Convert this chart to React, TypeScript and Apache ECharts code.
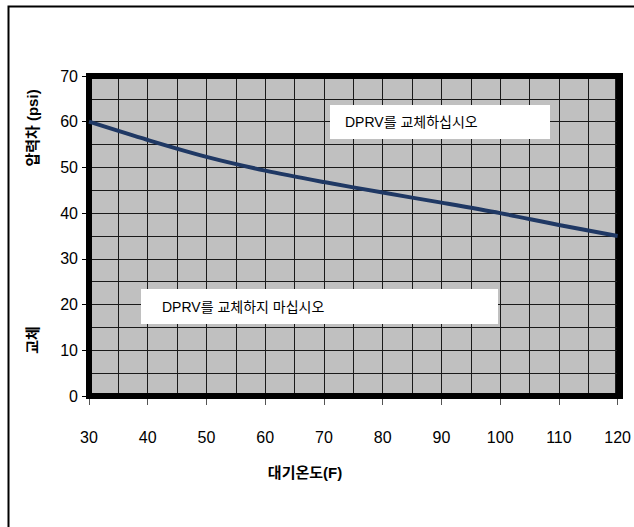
import React, { useEffect, useRef } from "react";
import * as echarts from "echarts";

const temperatures = [30, 40, 50, 60, 70, 80, 90, 100, 110, 120];
const pressureDiff = [60, 56, 52.3, 49.3, 46.8, 44.5, 42.3, 40, 37.4, 35];
const xTitle = "대기온도(F)";
const yTitle = "압력차 (psi)";
const yTitleLow = "교체";
const upperNote = "DPRV를 교체하십시오";
const lowerNote = "DPRV를 교체하지 마십시오";

const FONT = "Arial, 'Liberation Sans', 'Noto Sans CJK KR', sans-serif";

export default function App() {
  const ref = useRef<HTMLDivElement>(null);
  useEffect(() => {
    if (!ref.current) return;
    const chart = echarts.init(ref.current, null, { renderer: "svg" });
    const data = temperatures.map((t, i) => [t, pressureDiff[i]]);
    chart.setOption({
      animation: false,
      backgroundColor: "#ffffff",
      textStyle: { fontFamily: FONT },
      grid: {
        left: 89,
        right: 14,
        top: 76,
        bottom: 131,
        show: true,
        backgroundColor: "#c0c0c0",
        borderColor: "#000000",
        borderWidth: 5,
      },
      xAxis: {
        type: "value",
        min: 30,
        max: 120,
        interval: 10,
        axisLine: { show: false },
        axisTick: { show: true, length: 9, lineStyle: { color: "#555", width: 1 } },
        axisLabel: { color: "#000", fontSize: 16, margin: 33, fontFamily: FONT },
        splitLine: { show: true, lineStyle: { color: "#1a1a1a", width: 1 } },
        minorTick: { show: false, splitNumber: 2 },
        minorSplitLine: { show: true, lineStyle: { color: "#1a1a1a", width: 1 } },
      },
      yAxis: {
        type: "value",
        min: 0,
        max: 70,
        interval: 10,
        axisLine: { show: false },
        axisTick: { show: true, length: 7, lineStyle: { color: "#000", width: 1 } },
        axisLabel: { color: "#000", fontSize: 16, margin: 11, fontFamily: FONT },
        splitLine: { show: true, lineStyle: { color: "#1a1a1a", width: 1 } },
        minorTick: { show: false, splitNumber: 2 },
        minorSplitLine: { show: true, lineStyle: { color: "#1a1a1a", width: 1 } },
      },
      series: [
        {
          type: "line",
          data,
          smooth: 0.3,
          showSymbol: false,
          lineStyle: { color: "#1f3864", width: 4 },
          z: 5,
        },
      ],
      graphic: [
        {
          type: "rect",
          shape: { x: 8.5, y: 6.5, width: 700, height: 600 },
          style: { fill: "none", stroke: "#000", lineWidth: 2 },
          z: 0,
        },
        {
          type: "rect",
          shape: { x: 89, y: 76, width: 531, height: 320 },
          style: { fill: "none", stroke: "#000", lineWidth: 6 },
          z: 3,
        },
        {
          type: "rect",
          shape: { x: 330, y: 105, width: 220, height: 34 },
          style: { fill: "#ffffff" },
          z: 10,
        },
        {
          type: "text",
          x: 345,
          y: 122,
          style: {
            text: upperNote,
            fontSize: 14,
            fontFamily: FONT,
            fill: "#000",
            verticalAlign: "middle",
            align: "left",
          },
          z: 11,
        },
        {
          type: "rect",
          shape: { x: 141, y: 289, width: 357, height: 35 },
          style: { fill: "#ffffff" },
          z: 10,
        },
        {
          type: "text",
          x: 162,
          y: 307,
          style: {
            text: lowerNote,
            fontSize: 14,
            fontFamily: FONT,
            fill: "#000",
            verticalAlign: "middle",
            align: "left",
          },
          z: 11,
        },
        {
          type: "text",
          x: 305,
          y: 472,
          style: {
            text: xTitle,
            fontSize: 15,
            fontWeight: "bold",
            fontFamily: FONT,
            fill: "#000",
            align: "center",
            verticalAlign: "middle",
          },
        },
        {
          type: "text",
          x: 32,
          y: 128,
          rotation: Math.PI / 2,
          style: {
            text: yTitle,
            fontSize: 15,
            fontWeight: "bold",
            fontFamily: FONT,
            fill: "#000",
            align: "center",
            verticalAlign: "middle",
          },
        },
        {
          type: "text",
          x: 32,
          y: 340,
          rotation: Math.PI / 2,
          style: {
            text: yTitleLow,
            fontSize: 15,
            fontWeight: "bold",
            fontFamily: FONT,
            fill: "#000",
            align: "center",
            verticalAlign: "middle",
          },
        },
      ],
    });
    return () => chart.dispose();
  }, []);
  return (
    <div
      ref={ref}
      style={{ position: "fixed", left: 0, top: 0, width: 634, height: 527 }}
    />
  );
}
